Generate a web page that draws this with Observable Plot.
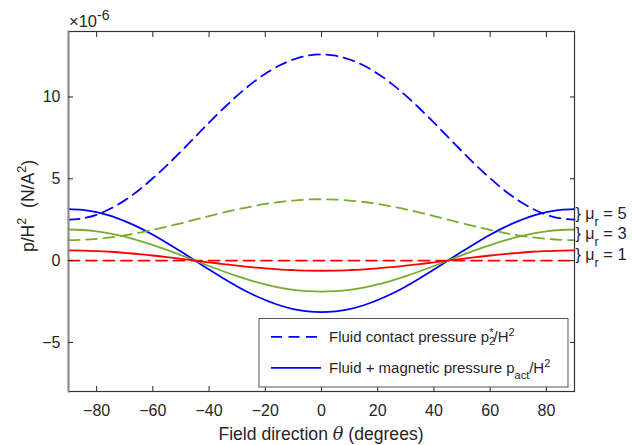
<!DOCTYPE html>
<html><head><meta charset="utf-8">
<script src="https://cdn.jsdelivr.net/npm/d3@7"></script>
<script src="https://cdn.jsdelivr.net/npm/@observablehq/plot@0.6"></script>
<style>body{margin:0;background:#fff} #chart{width:632px;height:445px}</style>
</head><body><div id="chart"></div>
<script>
// Field direction theta (degrees)
const theta = [-90,-85,-80,-75,-70,-65,-60,-55,-50,-45,-40,-35,-30,-25,-20,-15,-10,-5,0,5,10,15,20,25,30,35,40,45,50,55,60,65,70,75,80,85,90];
// Fluid contact pressure p2*/H^2 (x1e-6)
const blueDashed  = [2.50,2.58,2.80,3.18,3.68,4.30,5.03,5.82,6.67,7.55,8.43,9.28,10.08,10.80,11.42,11.92,12.29,12.52,12.60,12.52,12.29,11.92,11.42,10.80,10.08,9.28,8.43,7.55,6.67,5.82,5.03,4.30,3.68,3.18,2.80,2.58,2.50];
const greenDashed = [1.25,1.27,1.33,1.42,1.54,1.70,1.88,2.07,2.28,2.50,2.72,2.93,3.13,3.30,3.46,3.58,3.67,3.73,3.75,3.73,3.67,3.58,3.46,3.30,3.13,2.93,2.72,2.50,2.28,2.07,1.88,1.70,1.54,1.42,1.33,1.27,1.25];
const redDashed   = [0,0,0,0,0,0,0,0,0,0,0,0,0,0,0,0,0,0,0,0,0,0,0,0,0,0,0,0,0,0,0,0,0,0,0,0,0];
// Fluid + magnetic pressure p_act/H^2 (x1e-6)
const blueSolid  = [3.15,3.10,2.96,2.73,2.41,2.03,1.58,1.08,0.55,0,-0.55,-1.08,-1.58,-2.03,-2.41,-2.73,-2.96,-3.10,-3.15,-3.10,-2.96,-2.73,-2.41,-2.03,-1.58,-1.08,-0.55,0,0.55,1.08,1.58,2.03,2.41,2.73,2.96,3.10,3.15];
const greenSolid = [1.90,1.87,1.79,1.65,1.46,1.22,0.95,0.65,0.33,0,-0.33,-0.65,-0.95,-1.22,-1.46,-1.65,-1.79,-1.87,-1.90,-1.87,-1.79,-1.65,-1.46,-1.22,-0.95,-0.65,-0.33,0,0.33,0.65,0.95,1.22,1.46,1.65,1.79,1.87,1.90];
const redSolid   = [0.62,0.61,0.58,0.54,0.47,0.40,0.31,0.21,0.11,0,-0.11,-0.21,-0.31,-0.40,-0.47,-0.54,-0.58,-0.61,-0.62,-0.61,-0.58,-0.54,-0.47,-0.40,-0.31,-0.21,-0.11,0,0.11,0.21,0.31,0.40,0.47,0.54,0.58,0.61,0.62];

const seriesNames = ["5", "3", "1"]; // mu_r
const seriesColors = ["#0000ff", "#77ac30", "#ff0000"];
const dashedSeries = [blueDashed, greenDashed, redDashed];
const solidSeries = [blueSolid, greenSolid, redSolid];
const xTicks = [-80,-60,-40,-20,0,20,40,60,80];
const yTicks = [-5,0,5,10];
const legendLabels = ["Fluid contact pressure", "Fluid + magnetic pressure"];

function rowsOf(list) {
  const rows = [];
  list.forEach((vals, i) => theta.forEach((t, j) => rows.push({theta: t, value: vals[j], series: seriesNames[i]})));
  return rows;
}
const dashedRows = rowsOf(dashedSeries);
const solidRows = rowsOf(solidSeries);

const font = "'Liberation Sans', Arial, Helvetica, sans-serif";
const dash = "11,6.5";
const chart = Plot.plot({
  width: 632, height: 445,
  marginLeft: 68, marginRight: 58, marginTop: 31, marginBottom: 54,
  x: {domain: [-90, 90]},
  y: {domain: [-8, 14]},
  color: {domain: seriesNames, range: seriesColors},
  style: {fontFamily: font, fontSize: "16px", color: "#262626", background: "white"},
  marks: [
    Plot.lineY(solidRows, {x: "theta", y: "value", z: "series", stroke: "series", strokeWidth: 1.8, curve: "catmull-rom"}),
    Plot.lineY(dashedRows, {x: "theta", y: "value", z: "series", stroke: "series", strokeWidth: 1.8, strokeDasharray: dash, curve: "catmull-rom"}),
    Plot.frame({stroke: "#333", strokeWidth: 1.2}),
    Plot.frame({anchor: "left", stroke: "#8c8c8c", strokeWidth: 2}),
    Plot.axisX({anchor: "bottom", ticks: xTicks, tickSize: -5, tickPadding: 18, label: null}),
    Plot.axisX({anchor: "top", ticks: xTicks, tickSize: -5, tickFormat: () => "", label: null}),
    Plot.axisY({anchor: "left", ticks: yTicks, tickSize: -5, tickPadding: 13, label: null}),
    Plot.axisY({anchor: "right", ticks: yTicks, tickSize: -5, tickFormat: () => "", label: null})
  ]
});
document.getElementById("chart").appendChild(chart);

const svg = d3.select(chart);
const sx = chart.scale("x"), sy = chart.scale("y");
const txt = (parent, x, y, size, anchor = "start") => parent.append("text").attr("x", x).attr("y", y)
  .attr("text-anchor", anchor)
  .style("font-family", font).style("font-size", size + "px").style("fill", "#262626");
const span = (t, str, size, dy, extra = {}) => {
  const s = t.append("tspan").text(str);
  if (size) s.style("font-size", size + "px");
  if (dy) s.attr("dy", dy);
  for (const k in extra) s.attr(k, extra[k]);
  return s;
};

// exponent label
const ex = txt(svg, 69, 27, 16.5);
span(ex, "×10");
span(ex, "-6", 14, -7.5);

// axis labels
const xl = txt(svg, sx.apply(0), 440, 17.6, "middle");
span(xl, "Field direction ");
span(xl, "θ", null, 0, {"font-style": "italic"}).style("font-family", "'DejaVu Serif', serif");
span(xl, " (degrees)");

const yl = svg.append("text").attr("transform", `translate(34,${(sy.apply(14) + sy.apply(-8)) / 2 - 5}) rotate(-90)`)
  .attr("text-anchor", "middle").style("font-family", font).style("font-size", "17.6px").style("fill", "#262626");
span(yl, "p/H");
span(yl, "2", 12.5, -8);
span(yl, "  (N/A", 17.6, 8).style("white-space", "pre");
span(yl, "2", 12.5, -8);
span(yl, ")", 17.6, 8);

// mu_r annotations at the right edge
seriesNames.forEach((name, i) => {
  const last = theta.length - 1;
  const yc = (sy.apply(solidSeries[i][last]) + sy.apply(dashedSeries[i][last])) / 2;
  const t = txt(svg, sx.apply(90) + 1.5, yc + 5, 16);
  span(t, "} μ");
  span(t, "r", 12.5, 7);
  span(t, " = " + name, 16.5, -7);
});

// legend
const lg = svg.append("g");
lg.append("rect").attr("x", 259).attr("y", 318.5).attr("width", 309).attr("height", 68.5)
  .attr("fill", "white").attr("stroke", "#555").attr("stroke-width", 1);
[336.8, 367.8].forEach((ly, k) => {
  lg.append("line").attr("x1", 271).attr("x2", 321).attr("y1", ly).attr("y2", ly)
    .attr("stroke", seriesColors[0]).attr("stroke-width", 1.8)
    .attr("stroke-dasharray", k === 0 ? dash : null);
});
const l1 = txt(lg, 329, 341.7, 15);
span(l1, legendLabels[0] + " p");
span(l1, "2", 11, 3);
span(l1, "*", 11, -9, {dx: -6});
span(l1, "/H", 15, 6);
span(l1, "2", 11, -6);
const l2 = txt(lg, 329, 372.7, 15);
span(l2, legendLabels[1] + " p");
span(l2, "act", 11, 6);
span(l2, "/H", 15, -6);
span(l2, "2", 11, -6);
</script>
</body></html>
